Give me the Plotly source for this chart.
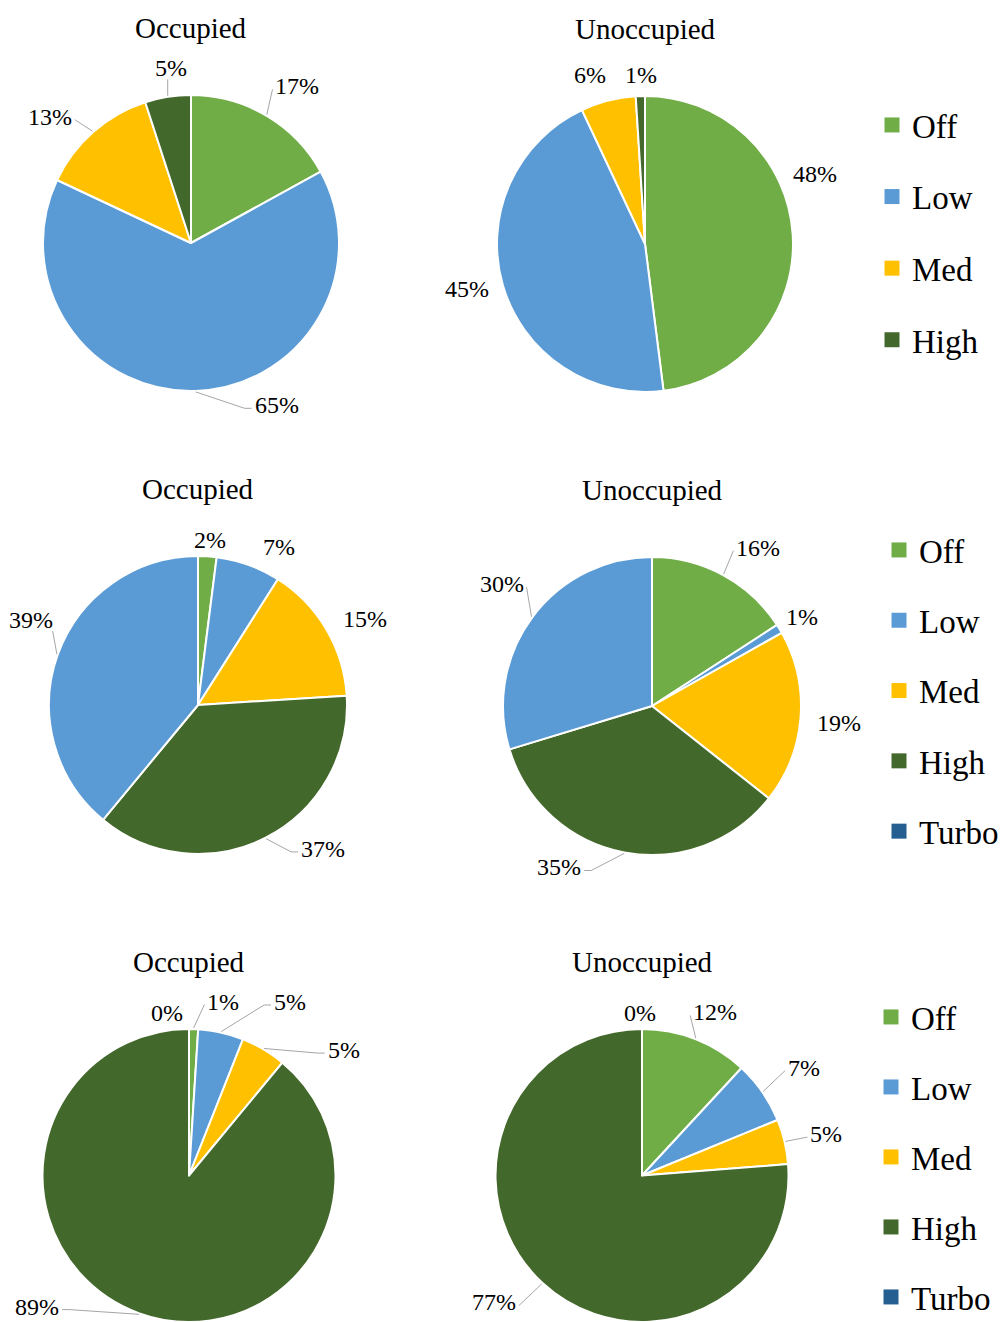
import math
import plotly.graph_objects as go

W, H = 1001, 1322
FONT = "Liberation Serif, Times New Roman, DejaVu Serif, serif"

# Fan operating modes
MODES_4 = ["Off", "Low", "Med", "High"]
MODES_5 = ["Off", "Low", "Med", "High", "Turbo"]

# Share of time (%) spent in each mode
occupied_1 = [17, 65, 13, 5]
unoccupied_1 = [48, 45, 6, 1]
occupied_2 = [2, 7, 15, 37, 39]
unoccupied_2 = [16, 1, 19, 35, 30]
occupied_3 = [1, 5, 5, 89, 0]
unoccupied_3 = [12, 7, 5, 77, 0]

PANEL_TITLES = ["Occupied", "Unoccupied"]

# slice fills and legend swatches
SLICE_COLORS = {"Off": "#70AD47", "Low": "#5B9BD5", "Med": "#FFC000",
                "High": "#43682B", "Turbo": "#5B9BD5"}
KEY_COLORS = {"Off": "#70AD47", "Low": "#5B9BD5", "Med": "#FFC000",
              "High": "#43682B", "Turbo": "#255E91"}

panels = [
    (MODES_4, occupied_1, PANEL_TITLES[0]),
    (MODES_4, unoccupied_1, PANEL_TITLES[1]),
    (MODES_5, occupied_2, PANEL_TITLES[0]),
    (MODES_5, unoccupied_2, PANEL_TITLES[1]),
    (MODES_5, occupied_3, PANEL_TITLES[0]),
    (MODES_5, unoccupied_3, PANEL_TITLES[1]),
]

# pie centre and radius in pixels
GEOMETRY = [
    (191, 243, 148), (645, 244, 148),
    (198, 705, 149), (652, 706, 149),
    (189, 1175.5, 146.5), (642, 1175.5, 146.5),
]

# per-slice label placement: (angular shift in deg, radius factor, leader side)
LABEL_LAYOUT = [
    [(3.6, 1.28, "l"), (-26, 1.24, "l"), (-6.8, 1.28, "r"), (2.5, 1.19, "b")],
    [(-18.8, 1.24, None), (2, 1.24, None), (-3.6, 1.2, None), (0.4, 1.14, None)],
    [(0.4, 1.11, None), (7.2, 1.19, None), (3.5, 1.26, None), (-14, 1.28, "l"), (7.2, 1.26, "b")],
    [(5.4, 1.28, "l"), (0.6, 1.17, None), (0.6, 1.26, None), (19.2, 1.25, "r"), (2.5, 1.30, "r")],
    [(9.4, 1.21, "l"), (17.6, 1.37, "l"), (20.4, 1.36, "l"), (29.4, 1.37, "r"), (-7.6, 1.12, None)],
    [(2.8, 1.22, "l"), (1.1, 1.33, "l"), (0.7, 1.29, "l"), (6.6, 1.33, "r"), (-0.7, 1.11, None)],
]

LABEL_SIZE = 24
TITLE_SIZE = 29
KEY_SIZE = 33
TITLE_OFFSET = 67
LEADER_COLOR = "#A6A6A6"
ELBOW = 7

# legend boxes: (name, left px, top px, gap between entries, modes)
LEGENDS = [
    ("legend", 872, 97, 25.7, MODES_4),
    ("legend2", 879, 522, 24.4, MODES_5),
    ("legend3", 871, 989, 24.1, MODES_5),
]

fig = go.Figure()
annotations = []
shapes = []


def leader(points):
    path = "M " + " L ".join(f"{x:.1f},{y:.1f}" for x, y in points)
    return dict(type="path", xref="x", yref="y", path=path,
                line=dict(color=LEADER_COLOR, width=1))


for (modes, values, title), (cx, cy, r), layout in zip(panels, GEOMETRY, LABEL_LAYOUT):
    fig.add_trace(go.Pie(
        labels=modes,
        values=values,
        sort=False,
        direction="clockwise",
        rotation=0,
        marker=dict(colors=[SLICE_COLORS[m] for m in modes],
                    line=dict(color="white", width=2)),
        textinfo="none",
        textposition="none",
        hoverinfo="label+percent",
        showlegend=False,
        domain=dict(x=[(cx - r) / W, (cx + r) / W],
                    y=[max(0, 1 - (cy + r) / H), min(1, 1 - (cy - r) / H)]),
    ))

    annotations.append(dict(
        x=cx, y=cy - r - TITLE_OFFSET, xref="x", yref="y",
        text=title, showarrow=False, xanchor="center", yanchor="middle",
        font=dict(family=FONT, size=TITLE_SIZE, color="black"),
    ))

    total = sum(values)
    cum = 0.0
    for v, (shift, factor, side) in zip(values, layout):
        mid = (cum + v / 2) / total * 360
        cum += v
        theta = math.radians(mid + shift)
        lx = cx + factor * r * math.sin(theta)
        ly = cy - factor * r * math.cos(theta)
        text = f"{v}%"
        annotations.append(dict(
            x=lx, y=ly, xref="x", yref="y", text=text, showarrow=False,
            xanchor="center", yanchor="middle",
            font=dict(family=FONT, size=LABEL_SIZE, color="black"),
        ))
        if side:
            w = LABEL_SIZE * (0.5 * (len(text) - 1) + 0.833)
            h = LABEL_SIZE * 0.7
            ex = cx + (r + 1) * math.sin(math.radians(mid))
            ey = cy - (r + 1) * math.cos(math.radians(mid))
            if side in ("l", "r"):
                sign = -1 if side == "l" else 1
                ax, ay = lx + sign * (w / 2 + 3), ly + 3
                if abs(ax - ex) > 25:
                    shapes.append(leader([(ex, ey), (ax + sign * ELBOW, ay), (ax, ay)]))
                else:
                    shapes.append(leader([(ex, ey), (ax, ay)]))
            else:
                ax = min(max(ex, lx - w / 2), lx + w / 2)
                ay = ly + h / 2 + 3
                shapes.append(leader([(ex, ey), (ax, ay)]))

# legend entries
layout_legends = {}
for name, left, top, gap, modes in LEGENDS:
    for m in modes:
        fig.add_trace(go.Scatter(
            x=[None], y=[None], mode="markers", name=m,
            marker=dict(symbol="square", size=15, color=KEY_COLORS[m]),
            legend=name, legendgroup=f"{name}-{m}", showlegend=True,
            hoverinfo="skip",
        ))
    layout_legends[name] = dict(
        x=left / W, y=1 - top / H, xanchor="left", yanchor="top",
        bgcolor="rgba(0,0,0,0)", borderwidth=0,
        font=dict(family=FONT, size=KEY_SIZE, color="black"),
        tracegroupgap=gap, itemclick=False, itemdoubleclick=False,
    )

fig.update_layout(
    width=W, height=H,
    margin=dict(l=0, r=0, t=0, b=0, autoexpand=False),
    paper_bgcolor="white", plot_bgcolor="white",
    xaxis=dict(range=[0, W], visible=False, domain=[0, 1], fixedrange=True),
    yaxis=dict(range=[H, 0], visible=False, domain=[0, 1], fixedrange=True),
    annotations=annotations,
    shapes=shapes,
    **layout_legends,
)

fig.write_html("out.html")
